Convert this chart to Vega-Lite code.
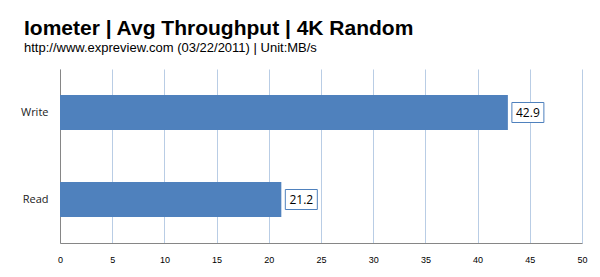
{
  "$schema": "https://vega.github.io/schema/vega-lite/v6.json",
  "width": 522,
  "height": 174,
  "autosize": {"type": "none"},
  "padding": {"left": 60, "top": 69, "right": 18, "bottom": 34},
  "background": "white",
  "title": {
    "text": "Iometer | Avg  Throughput | 4K Random",
    "subtitle": "http://www.expreview.com (03/22/2011) | Unit:MB/s",
    "anchor": "start",
    "frame": "group",
    "dx": -36,
    "offset": 14,
    "font": "Liberation Sans",
    "fontSize": 21,
    "fontWeight": "bold",
    "color": "#000000",
    "subtitleFont": "Liberation Sans",
    "subtitleFontSize": 13,
    "subtitleColor": "#000000",
    "subtitlePadding": 3
  },
  "data": {
    "values": [
      {"op": "Write", "value": 42.9, "label": "42.9"},
      {"op": "Read", "value": 21.2, "label": "21.2"}
    ]
  },
  "encoding": {
    "y": {
      "field": "op",
      "type": "nominal",
      "sort": ["Write", "Read"],
      "scale": {"paddingInner": 0, "paddingOuter": 0},
      "axis": {
        "title": null,
        "ticks": false,
        "domainColor": "#868686",
        "domainWidth": 1,
        "labelFont": "Open Sans",
        "labelFontSize": 11,
        "labelColor": "#222222",
        "labelPadding": 12,
        "grid": false
      }
    }
  },
  "layer": [
    {
      "mark": {"type": "bar", "color": "#4f81bd", "height": 35},
      "encoding": {
        "x": {
          "field": "value",
          "type": "quantitative",
          "scale": {"domain": [0, 50], "nice": false},
          "axis": {
            "title": null,
            "values": [0, 5, 10, 15, 20, 25, 30, 35, 40, 45, 50],
            "ticks": false,
            "domainColor": "#868686",
            "domainWidth": 1,
            "gridColor": "#b9cde5",
            "gridWidth": 1,
            "labelFont": "Liberation Sans",
            "labelFontSize": 9,
            "labelColor": "#000000",
            "labelPadding": 12,
            "labelFlush": false
          }
        }
      }
    },
    {
      "mark": {"type": "bar", "fill": "white", "stroke": "#4f81bd", "strokeWidth": 1, "height": 20, "xOffset": 4, "x2Offset": 36},
      "encoding": {
        "x": {"field": "value", "type": "quantitative"},
        "x2": {"field": "value"}
      }
    },
    {
      "mark": {"type": "text", "align": "center", "dx": 20, "font": "Open Sans", "fontSize": 12, "color": "#000000"},
      "encoding": {
        "x": {"field": "value", "type": "quantitative"},
        "text": {"field": "label"}
      }
    }
  ],
  "config": {
    "view": {"stroke": null}
  }
}
